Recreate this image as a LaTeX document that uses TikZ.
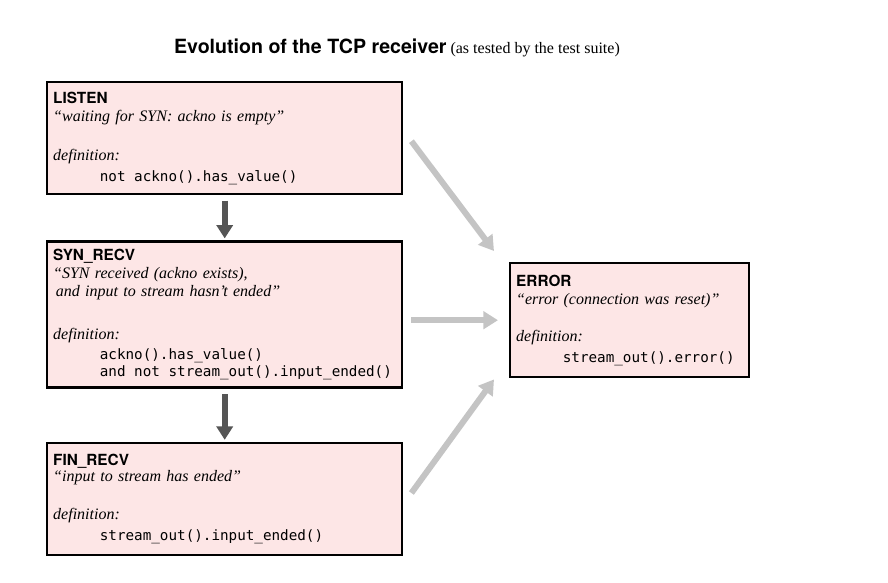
\documentclass[tikz,border=0pt]{standalone}
\usepackage{fontspec}
\setmainfont{Liberation Serif}
\setsansfont{TeX Gyre Heros}
\setmonofont{DejaVu Sans Mono}
\usetikzlibrary{calc, arrows.meta, positioning}
\definecolor{statePink}{HTML}{FDE6E6}
\definecolor{stepGray}{HTML}{555555}
\definecolor{resetGray}{HTML}{C4C4C4}
\newcommand{\statename}[1]{{\sffamily\bfseries\fontsize{11.5}{13.5}\selectfont #1}}
\newcommand{\statecode}[1]{\hspace*{35pt}{\ttfamily\fontsize{10.7}{12.75}\selectfont\spaceskip=0.602em\relax #1}}

\begin{document}
\begin{tikzpicture}[
            x=0.75pt, y=-0.75pt,
            every node/.style={font=\fontsize{12}{13.5}\selectfont},
            state/.style={rectangle, draw=black, line width=1.8pt, fill=statePink, text width=257.25pt, align=left, inner xsep=4.5pt, inner ysep=4pt},
            errstate/.style={state, text width=170.25pt},
            stepArrow/.style={-{Triangle[width=12pt, length=10pt]}, line width=4.5pt, draw=stepGray, shorten <=4pt, shorten >=1.5pt},
            resetArrow/.style={-{Triangle[width=13pt, length=11pt]}, line width=4.5pt, draw=resetGray}
        ]
            \useasboundingbox (0,0) rectangle (888,582);

            % Title
            \node (title) at (397,48) {{\sffamily\bfseries\fontsize{14.7}{16}\selectfont Evolution of the TCP receiver} {\fontsize{12}{13}\selectfont (as tested by the test suite)}};

            % States
            \node[state, minimum height=84pt, anchor=north west] (listen) at (46,81) {\statename{LISTEN}\\
                \textit{``waiting for SYN: ackno is empty''}\\[15.75pt]
                \textit{definition:}\\[2.25pt]
                \statecode{not ackno().has\_value()}};
            \node[state, minimum height=109.5pt, below=33.75pt of listen] (synrecv) {\statename{SYN\_RECV}\\
                \textit{``SYN received (ackno exists),}\\
                \hspace*{2pt}\textit{and input to stream hasn't ended''}\\[18.75pt]
                \textit{definition:}\\[1.5pt]
                \statecode{ackno().has\_value()}\\[-0.75pt]
                \statecode{and not stream\_out().input\_ended()}};
            \node[state, minimum height=84pt, below=39.75pt of synrecv] (finrecv) {\statename{FIN\_RECV}\\[-1.5pt]
                \textit{``input to stream has ended''}\\[15pt]
                \textit{definition:}\\[2.25pt]
                \statecode{stream\_out().input\_ended()}};
            \node[errstate, minimum height=85.5pt, anchor=north west] (error) at (509,262) {\statename{ERROR}\\
                \textit{``error (connection was reset)''}\\[14.25pt]
                \textit{definition:}\\[2.25pt]
                \statecode{stream\_out().error()}};

            % Arrows
            \draw[stepArrow] (listen) -- (synrecv);
            \draw[stepArrow] (synrecv) -- (finrecv);
            \draw[resetArrow] ($(listen.east)+(8,3)$) -- ($(error.north west)+(-15,-11)$);
            \draw[resetArrow] ($(synrecv.east |- error.west)+(8,0)$) -- ($(error.west)+(-11,0)$);
            \draw[resetArrow] ($(finrecv.east)+(8,-6)$) -- ($(error.south west)+(-15,1)$);
        \end{tikzpicture}
\end{document}
